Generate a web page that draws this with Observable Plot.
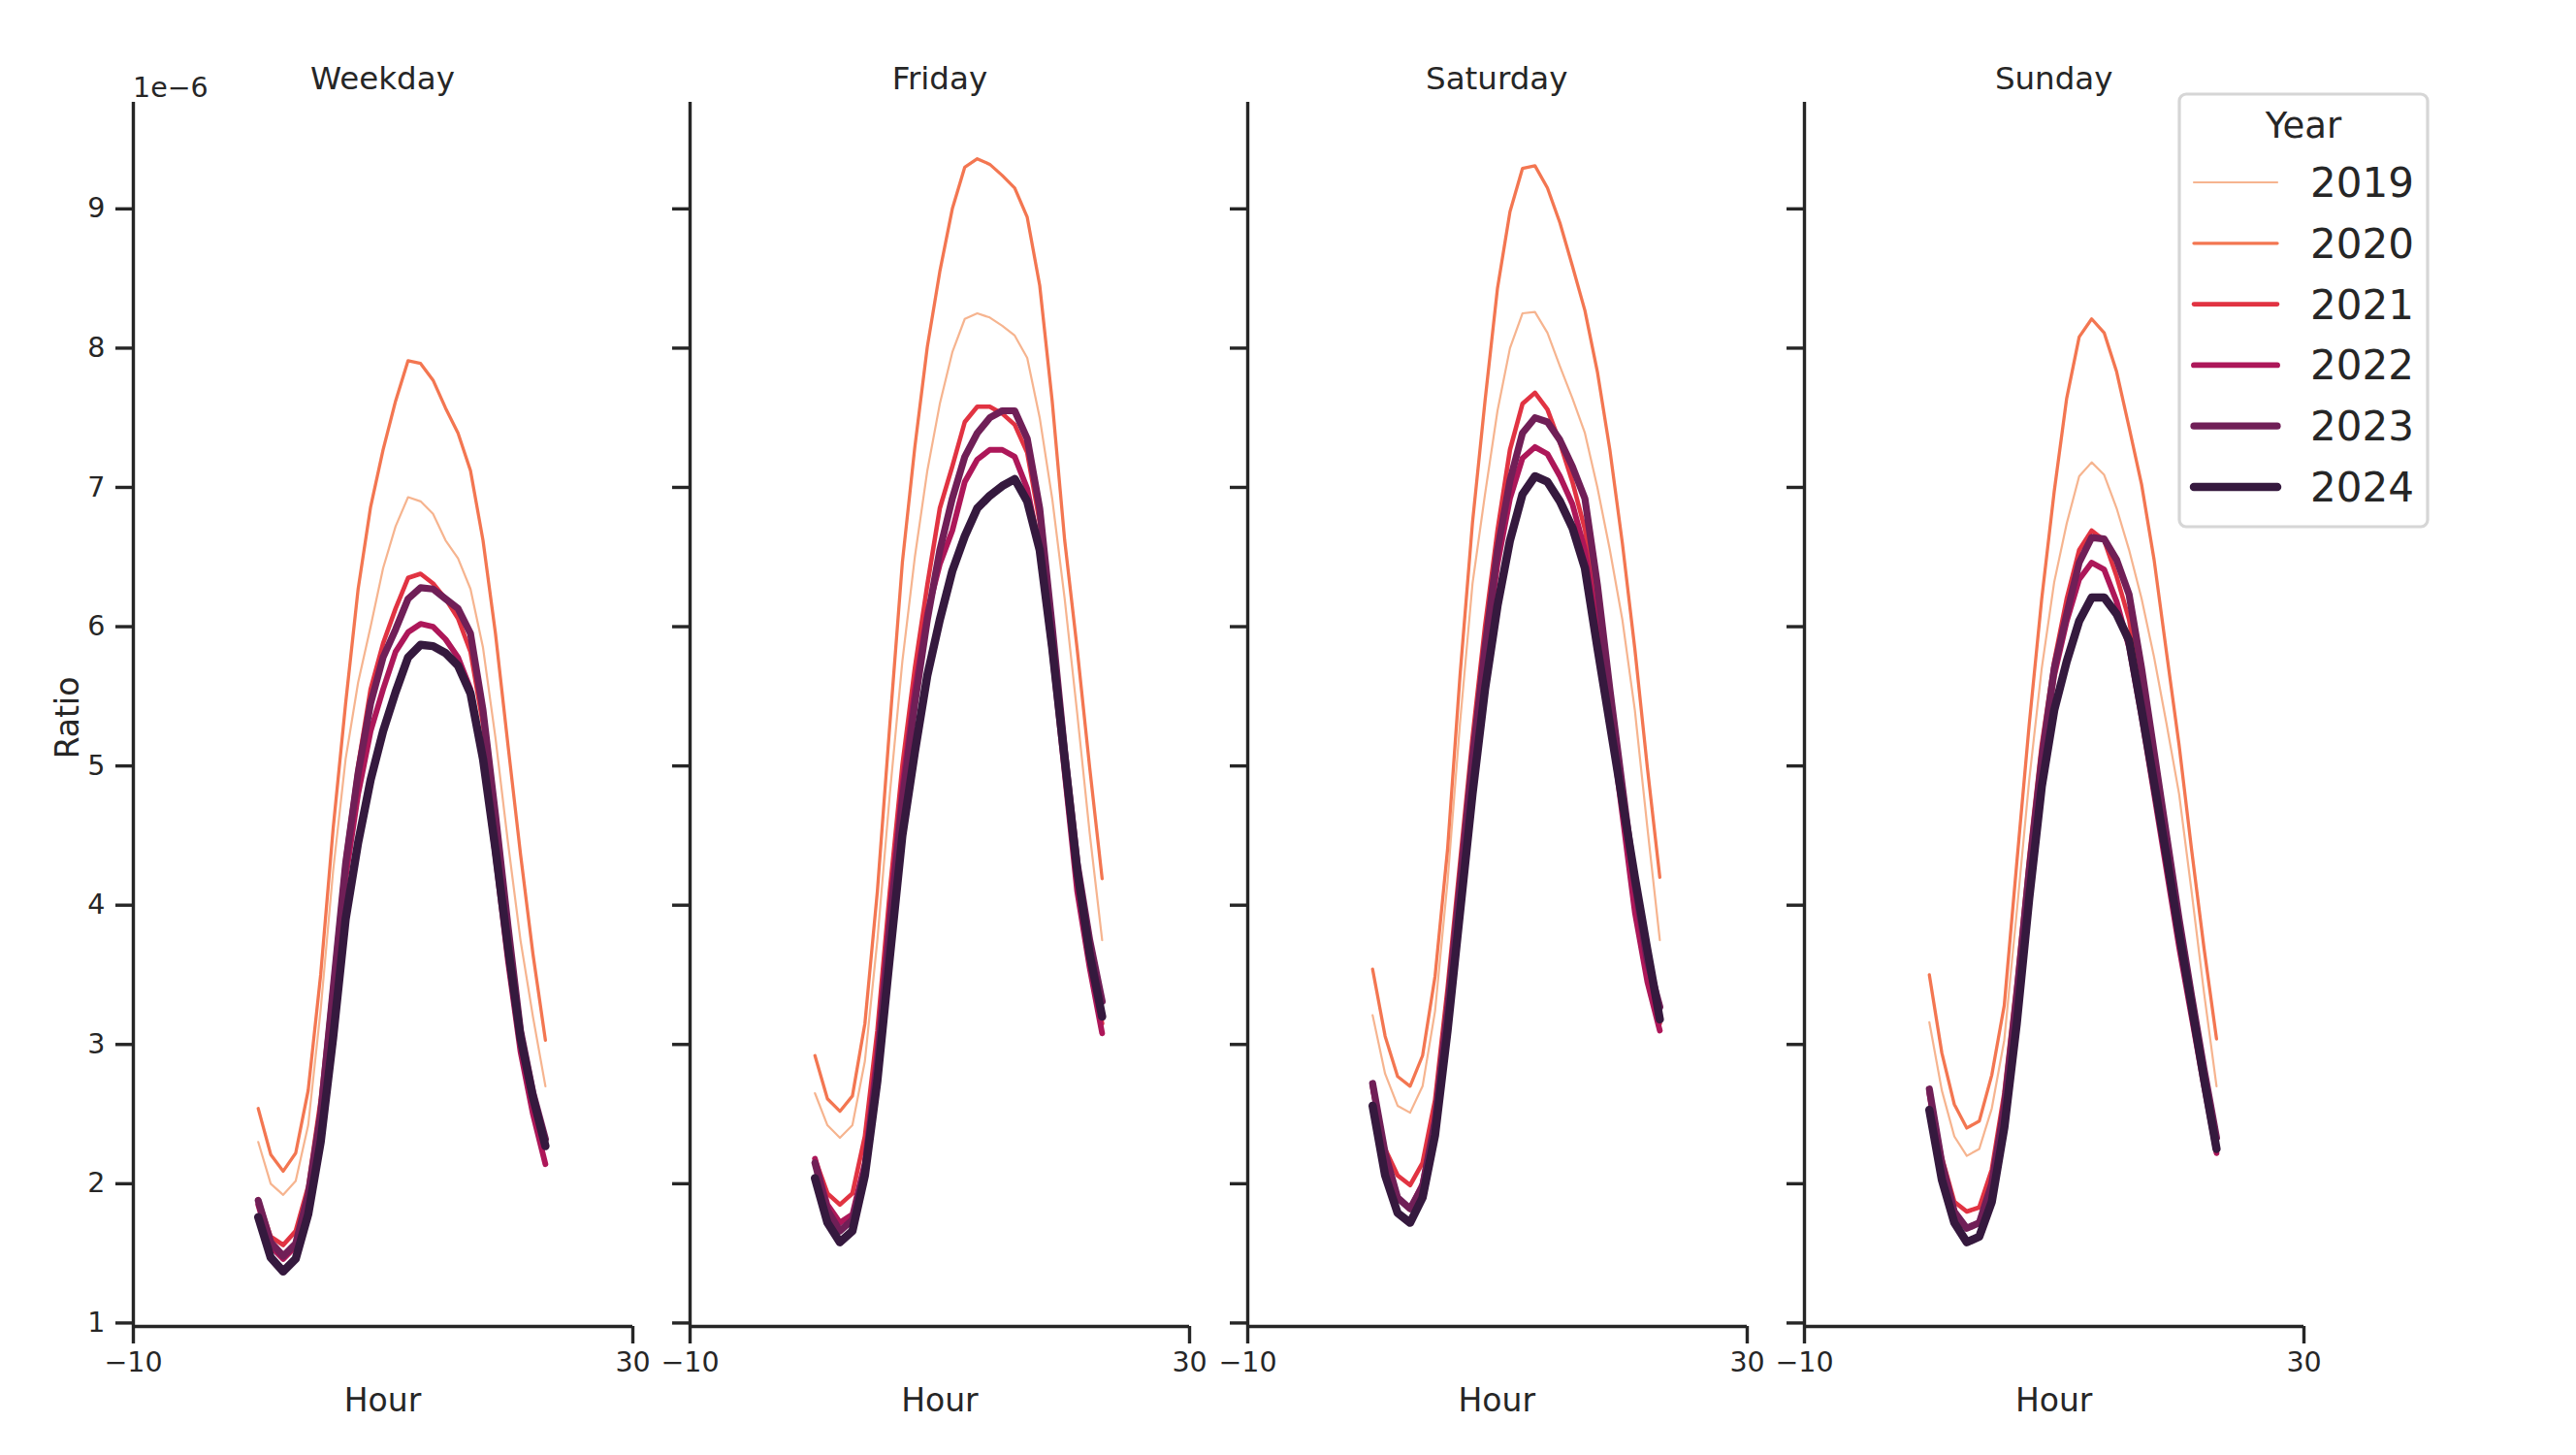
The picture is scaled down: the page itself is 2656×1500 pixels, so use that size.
<!DOCTYPE html>
<html>
<head>
<meta charset="utf-8">
<script src="https://cdn.jsdelivr.net/npm/d3@7"></script>
<script src="https://cdn.jsdelivr.net/npm/@observablehq/plot@0.6"></script>
<style>
html, body { margin: 0; padding: 0; background: #ffffff; }
#root { position: relative; width: 2656px; height: 1500px; overflow: hidden; font-family: "DejaVu Sans", sans-serif; }
#root > svg { position: absolute; }
</style>
</head>
<body>
<div id="root"></div>
<script>
// ---------------- data ----------------
const hours = d3.range(24);
const years = [2019, 2020, 2021, 2022, 2023, 2024];
const panels = ["Weekday", "Friday", "Saturday", "Sunday"];
const yTicks = [1, 2, 3, 4, 5, 6, 7, 8, 9];
const xTicks = [-10, 30];

// Ratio values (×1e−6) by hour 0..23
const weekday2019 = [2.30, 2.00, 1.92, 2.02, 2.42, 3.25, 4.25, 5.05, 5.60, 6.00, 6.42, 6.72, 6.93, 6.90, 6.81, 6.62, 6.49, 6.27, 5.85, 5.20, 4.45, 3.75, 3.20, 2.70];
const weekday2020 = [2.54, 2.21, 2.09, 2.22, 2.67, 3.50, 4.55, 5.45, 6.27, 6.86, 7.27, 7.62, 7.91, 7.89, 7.77, 7.57, 7.39, 7.12, 6.62, 5.95, 5.15, 4.37, 3.65, 3.03];
const weekday2021 = [1.89, 1.62, 1.56, 1.66, 1.98, 2.60, 3.45, 4.35, 5.00, 5.55, 5.88, 6.13, 6.35, 6.38, 6.31, 6.20, 6.06, 5.82, 5.30, 4.60, 3.80, 3.10, 2.60, 2.30];
const weekday2022 = [1.85, 1.55, 1.46, 1.55, 1.90, 2.45, 3.30, 4.20, 4.80, 5.25, 5.55, 5.82, 5.96, 6.02, 6.00, 5.91, 5.78, 5.55, 5.05, 4.35, 3.60, 2.95, 2.50, 2.14];
const weekday2023 = [1.88, 1.58, 1.48, 1.57, 1.92, 2.50, 3.40, 4.30, 4.95, 5.45, 5.78, 5.98, 6.20, 6.28, 6.27, 6.20, 6.13, 5.95, 5.40, 4.65, 3.85, 3.10, 2.65, 2.32];
const weekday2024 = [1.76, 1.47, 1.37, 1.46, 1.78, 2.30, 3.05, 3.90, 4.45, 4.90, 5.25, 5.53, 5.78, 5.87, 5.86, 5.81, 5.72, 5.52, 5.05, 4.40, 3.70, 3.05, 2.62, 2.27];

const friday2019 = [2.65, 2.42, 2.33, 2.42, 2.88, 3.75, 4.80, 5.75, 6.50, 7.12, 7.60, 7.97, 8.21, 8.25, 8.22, 8.16, 8.09, 7.93, 7.50, 6.92, 6.20, 5.38, 4.52, 3.75];
const friday2020 = [2.92, 2.61, 2.52, 2.63, 3.15, 4.10, 5.30, 6.46, 7.29, 8.01, 8.55, 9.00, 9.30, 9.36, 9.32, 9.24, 9.15, 8.94, 8.45, 7.62, 6.62, 5.84, 4.99, 4.19];
const friday2021 = [2.18, 1.93, 1.85, 1.93, 2.34, 3.10, 4.10, 5.00, 5.70, 6.30, 6.85, 7.15, 7.47, 7.58, 7.58, 7.53, 7.45, 7.25, 6.75, 5.90, 5.00, 4.20, 3.65, 3.15];
const friday2022 = [2.18, 1.85, 1.72, 1.78, 2.15, 2.95, 3.95, 4.85, 5.55, 6.10, 6.45, 6.69, 7.04, 7.20, 7.27, 7.27, 7.22, 6.99, 6.55, 5.80, 4.95, 4.10, 3.55, 3.08];
const friday2023 = [2.15, 1.81, 1.66, 1.74, 2.10, 2.85, 3.85, 4.75, 5.45, 6.05, 6.55, 6.92, 7.22, 7.39, 7.50, 7.55, 7.55, 7.35, 6.85, 6.00, 5.10, 4.30, 3.75, 3.31];
const friday2024 = [2.04, 1.72, 1.58, 1.66, 2.06, 2.74, 3.63, 4.50, 5.10, 5.65, 6.05, 6.40, 6.65, 6.85, 6.94, 7.01, 7.06, 6.90, 6.55, 5.85, 5.05, 4.25, 3.65, 3.20];

const saturday2019 = [3.21, 2.79, 2.56, 2.51, 2.70, 3.24, 4.17, 5.31, 6.31, 6.95, 7.55, 8.00, 8.25, 8.26, 8.11, 7.87, 7.64, 7.39, 7.00, 6.55, 6.05, 5.40, 4.56, 3.75];
const saturday2020 = [3.54, 3.06, 2.77, 2.70, 2.92, 3.49, 4.40, 5.65, 6.75, 7.62, 8.43, 8.98, 9.29, 9.31, 9.15, 8.90, 8.59, 8.27, 7.83, 7.27, 6.60, 5.84, 4.99, 4.20];
const saturday2021 = [2.68, 2.25, 2.06, 1.99, 2.15, 2.60, 3.40, 4.30, 5.20, 6.00, 6.69, 7.27, 7.60, 7.68, 7.56, 7.32, 7.04, 6.70, 6.15, 5.45, 4.75, 4.10, 3.55, 3.15];
const saturday2022 = [2.70, 2.20, 1.90, 1.82, 2.00, 2.45, 3.25, 4.15, 5.00, 5.80, 6.45, 6.92, 7.21, 7.29, 7.24, 7.08, 6.88, 6.55, 6.00, 5.35, 4.65, 3.95, 3.45, 3.10];
const saturday2023 = [2.72, 2.22, 1.90, 1.82, 1.98, 2.45, 3.25, 4.15, 5.05, 5.85, 6.55, 7.05, 7.39, 7.50, 7.47, 7.34, 7.15, 6.92, 6.30, 5.55, 4.85, 4.15, 3.60, 3.27];
const saturday2024 = [2.56, 2.06, 1.79, 1.72, 1.90, 2.35, 3.10, 3.95, 4.80, 5.55, 6.15, 6.62, 6.95, 7.08, 7.04, 6.90, 6.71, 6.42, 5.85, 5.30, 4.75, 4.20, 3.68, 3.18];

const sunday2019 = [3.16, 2.67, 2.34, 2.20, 2.25, 2.54, 3.03, 3.95, 4.90, 5.70, 6.32, 6.74, 7.08, 7.18, 7.09, 6.85, 6.55, 6.20, 5.78, 5.30, 4.80, 4.10, 3.37, 2.70];
const sunday2020 = [3.50, 2.94, 2.57, 2.40, 2.45, 2.78, 3.28, 4.30, 5.30, 6.20, 6.97, 7.64, 8.08, 8.21, 8.11, 7.83, 7.43, 7.02, 6.48, 5.81, 5.15, 4.40, 3.69, 3.04];
const sunday2021 = [2.67, 2.19, 1.87, 1.80, 1.83, 2.10, 2.65, 3.45, 4.35, 5.15, 5.75, 6.20, 6.55, 6.69, 6.62, 6.36, 6.05, 5.50, 4.95, 4.40, 3.85, 3.30, 2.78, 2.28];
const sunday2022 = [2.65, 2.10, 1.78, 1.68, 1.72, 2.00, 2.55, 3.35, 4.25, 5.05, 5.65, 6.04, 6.34, 6.46, 6.41, 6.18, 5.85, 5.35, 4.80, 4.25, 3.70, 3.20, 2.70, 2.22];
const sunday2023 = [2.68, 2.15, 1.80, 1.68, 1.72, 2.00, 2.55, 3.35, 4.25, 5.05, 5.70, 6.09, 6.46, 6.64, 6.63, 6.48, 6.23, 5.70, 5.10, 4.50, 3.90, 3.35, 2.82, 2.33];
const sunday2024 = [2.53, 2.03, 1.72, 1.58, 1.62, 1.87, 2.40, 3.15, 4.05, 4.85, 5.40, 5.75, 6.04, 6.21, 6.21, 6.09, 5.90, 5.40, 4.88, 4.35, 3.80, 3.28, 2.75, 2.25];

const seriesByPanel = {
  Weekday: [weekday2019, weekday2020, weekday2021, weekday2022, weekday2023, weekday2024],
  Friday: [friday2019, friday2020, friday2021, friday2022, friday2023, friday2024],
  Saturday: [saturday2019, saturday2020, saturday2021, saturday2022, saturday2023, saturday2024],
  Sunday: [sunday2019, sunday2020, sunday2021, sunday2022, sunday2023, sunday2024]
};

// ---------------- styling ----------------
const yearColors = ["#f6b48f", "#f37651", "#e13342", "#ad1759", "#701f57", "#35193e"];
const yearWidths = [2.2, 3.3, 4.6, 5.9, 7.2, 8.5];
const ink = "#262626";
const fmt = d => (d < 0 ? "\u2212" + Math.abs(d) : String(d));

const rows = [];
panels.forEach(p => {
  seriesByPanel[p].forEach((vals, k) => {
    vals.forEach((v, h) => rows.push({ panel: p, year: years[k], hour: hours[h], value: v }));
  });
});

const root = document.getElementById("root");

// layout (pixels)
const axesTop = 105, axesH = 1262, axesW = 515;
const panelLeft = [137, 711.4, 1285.8, 1860.2];
const mL = 130, mR = 40, mT = 10, mB = 110;

panels.forEach((p, i) => {
  const data = rows.filter(r => r.panel === p);
  const chart = Plot.plot({
    width: axesW + mL + mR,
    height: axesH + mT + mB,
    marginLeft: mL, marginRight: mR, marginTop: mT, marginBottom: mB,
    x: { domain: [-10, 30] },
    y: { domain: [0.975, 9.765] },
    style: { fontFamily: "DejaVu Sans, sans-serif", fontSize: "28.5px", color: ink, background: "transparent", overflow: "visible" },
    marks: [
      ...years.map((yr, k) => Plot.line(data.filter(r => r.year === yr), {
        x: "hour", y: "value",
        stroke: yearColors[k], strokeWidth: yearWidths[k],
        strokeLinejoin: "round", strokeLinecap: "round"
      })),
      Plot.ruleX([-10], { stroke: ink, strokeWidth: 3.4 }),
      Plot.ruleY([0.975], { stroke: ink, strokeWidth: 3.4 }),
      Plot.axisX({ ticks: xTicks, tickSize: 18, tickPadding: 8, strokeWidth: 3.4, fontSize: 28.5, label: null, tickFormat: fmt }),
      Plot.axisY({ ticks: yTicks, tickSize: 18, tickPadding: 11, strokeWidth: 3.4, fontSize: 28.5, label: null,
                   tickFormat: i === 0 ? (d => String(d)) : (() => "") })
    ]
  });
  chart.style.left = (panelLeft[i] - mL) + "px";
  chart.style.top = (axesTop - mT) + "px";
  root.appendChild(chart);
});

// ---------------- text overlay + legend ----------------
const ov = d3.select(root).append("svg")
  .attr("width", 2656).attr("height", 1500)
  .style("left", "0px").style("top", "0px")
  .style("font-family", "DejaVu Sans, sans-serif")
  .style("pointer-events", "none");

panels.forEach((p, i) => {
  const cx = panelLeft[i] + axesW / 2;
  ov.append("text").attr("x", cx).attr("y", 92).attr("text-anchor", "middle")
    .attr("font-size", 32.5).attr("fill", ink).text(p);
  ov.append("text").attr("x", cx).attr("y", 1455).attr("text-anchor", "middle")
    .attr("font-size", 33).attr("fill", ink).text("Hour");
});

ov.append("text").attr("transform", "translate(81,740) rotate(-90)").attr("text-anchor", "middle")
  .attr("font-size", 33).attr("fill", ink).text("Ratio");
ov.append("text").attr("x", 137).attr("y", 100).attr("font-size", 28.5).attr("fill", ink).text("1e\u22126");

// legend
const lg = ov.append("g");
lg.append("rect").attr("x", 2247).attr("y", 97).attr("width", 256).attr("height", 446)
  .attr("rx", 7).attr("fill", "#ffffff").attr("fill-opacity", 0.8)
  .attr("stroke", "#d6d6d6").attr("stroke-width", 3.2);
lg.append("text").attr("x", 2375).attr("y", 142).attr("text-anchor", "middle")
  .attr("font-size", 37).attr("fill", ink).text("Year");
years.forEach((yr, k) => {
  const y = 188 + k * 62.8;
  lg.append("line").attr("x1", 2262).attr("x2", 2348).attr("y1", y).attr("y2", y)
    .attr("stroke", yearColors[k]).attr("stroke-width", yearWidths[k]).attr("stroke-linecap", "round");
  lg.append("text").attr("x", 2382).attr("y", y + 15).attr("font-size", 42).attr("fill", ink).text(String(yr));
});
</script>
</body>
</html>
